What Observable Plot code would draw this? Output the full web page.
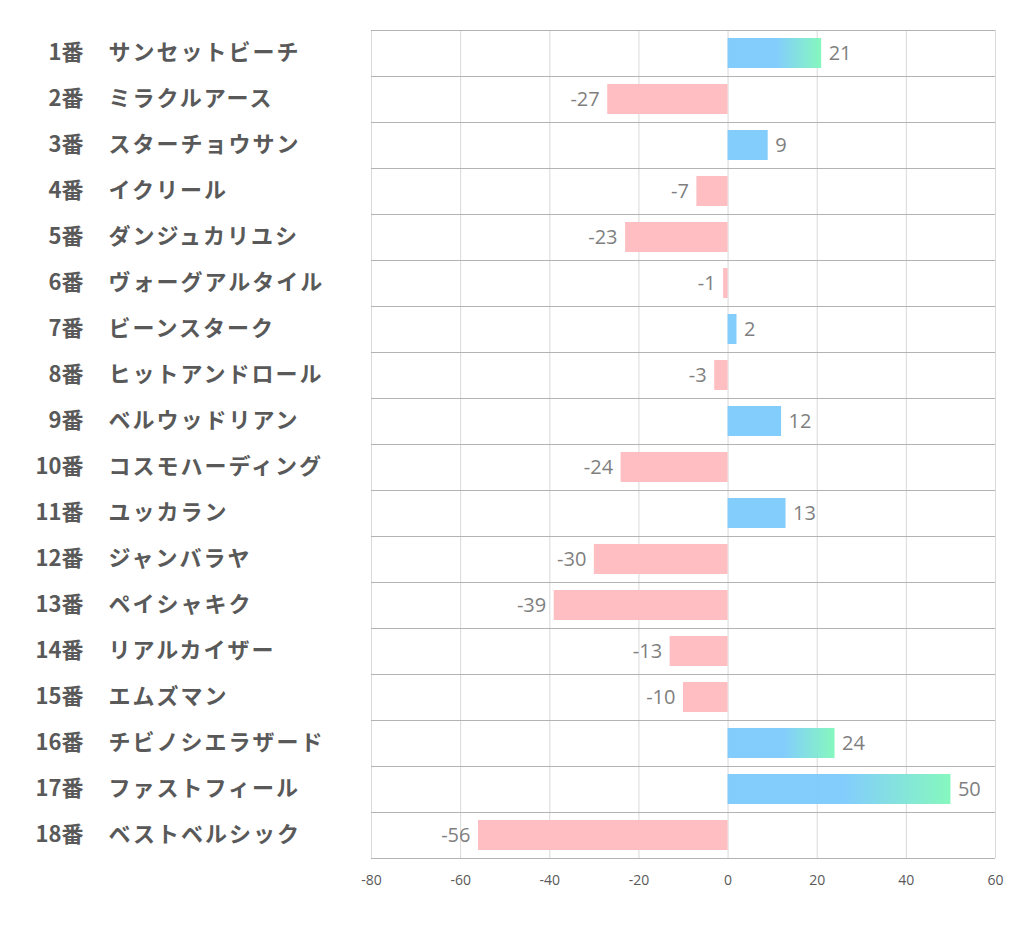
<!DOCTYPE html>
<html><head><meta charset="utf-8">
<script src="https://cdn.jsdelivr.net/npm/d3@7"></script>
<script src="https://cdn.jsdelivr.net/npm/@observablehq/plot@0.6"></script>
<style>body{margin:0;background:#fff;} svg{display:block;}</style>
</head><body><div id="chart"></div>
<script>
const nums = ["1番","2番","3番","4番","5番","6番","7番","8番","9番","10番","11番","12番","13番","14番","15番","16番","17番","18番"];
const names = ["サンセットビーチ","ミラクルアース","スターチョウサン","イクリール","ダンジュカリユシ","ヴォーグアルタイル","ビーンスターク","ヒットアンドロール","ベルウッドリアン","コスモハーディング","ユッカラン","ジャンバラヤ","ペイシャキク","リアルカイザー","エムズマン","チビノシエラザード","ファストフィール","ベストベルシック"];
const values = [21,-27,9,-7,-23,-1,2,-3,12,-24,13,-30,-39,-13,-10,24,50,-56];
const xTicks = [-80,-60,-40,-20,0,20,40,60];

const data = names.map((n,i)=>({num:nums[i], name:n, v:values[i]}));
const jp = "'Noto Sans CJK JP', sans-serif";

const chart = Plot.plot({
  width: 1022, height: 939,
  marginLeft: 371, marginRight: 27, marginTop: 30, marginBottom: 81,
  style: {background:"#fff", fontFamily:"'Open Sans', sans-serif", fontSize:"14px"},
  x: {domain:[-80,60], ticks:xTicks, label:null, tickSize:0, tickPadding:17, tickFormat:d=>String(d)},
  y: {domain:names, paddingInner:0.35, paddingOuter:0.175, axis:null, label:null},
  marks: [
    Plot.ruleX(xTicks, {stroke:"#d9d9d9"}),
    Plot.ruleY(data, {y:"name", dy:-23, stroke:"#b3b3b3"}),
    Plot.ruleY([0], {y: () => names[names.length-1], dy:23, stroke:"#b3b3b3"}),
    Plot.barX(data.filter(d=>d.v<0), {x:"v", y:"name", fill:"#ffbbbe", fillOpacity:0.95}),
    Plot.barX(data.filter(d=>d.v>0 && d.v<20), {x:"v", y:"name", fill:"#7ccafd", fillOpacity:0.95}),
    Plot.barX(data.filter(d=>d.v>=20), {x:"v", y:"name", fill:"url(#grad)", fillOpacity:0.95}),
    Plot.text(data.filter(d=>d.v>0), {x:"v", y:"name", text:d=>String(d.v), textAnchor:"start", dx:7, fontSize:20, fill:"#7f7f7f"}),
    Plot.text(data.filter(d=>d.v<0), {x:"v", y:"name", text:d=>String(d.v), textAnchor:"end", dx:-8, fontSize:20, fill:"#7f7f7f"}),
    Plot.text(data, {y:"name", text:"num", frameAnchor:"left", textAnchor:"end", dx:83-371, dy:-1, fontSize:22, fontWeight:"bold", fill:"#595959", fontFamily:jp}),
    Plot.text(data, {y:"name", text:"name", frameAnchor:"left", textAnchor:"start", dx:108-371, dy:-1, fontSize:22, fontWeight:"bold", fill:"#595959", fontFamily:jp}),
    Plot.axisX({ticks:xTicks, tickSize:0, tickPadding:17, fontSize:14, color:"#595959", label:null, tickFormat:d=>String(d)})
  ]
});
const svg = d3.select(chart);
const nameSet = new Set(names);
svg.selectAll("text").filter(function(){ return nameSet.has(this.textContent); }).attr("letter-spacing", "2px");
const defs = svg.insert("defs", ":first-child");
const g = defs.append("linearGradient").attr("id","grad").attr("x1","0").attr("x2","1").attr("y1","0").attr("y2","0");
g.append("stop").attr("offset","0").attr("stop-color","#7ccafd");
g.append("stop").attr("offset","0.52").attr("stop-color","#7ccafd");
g.append("stop").attr("offset","1").attr("stop-color","#7ff7bb");
document.getElementById("chart").appendChild(chart);
</script></body></html>
